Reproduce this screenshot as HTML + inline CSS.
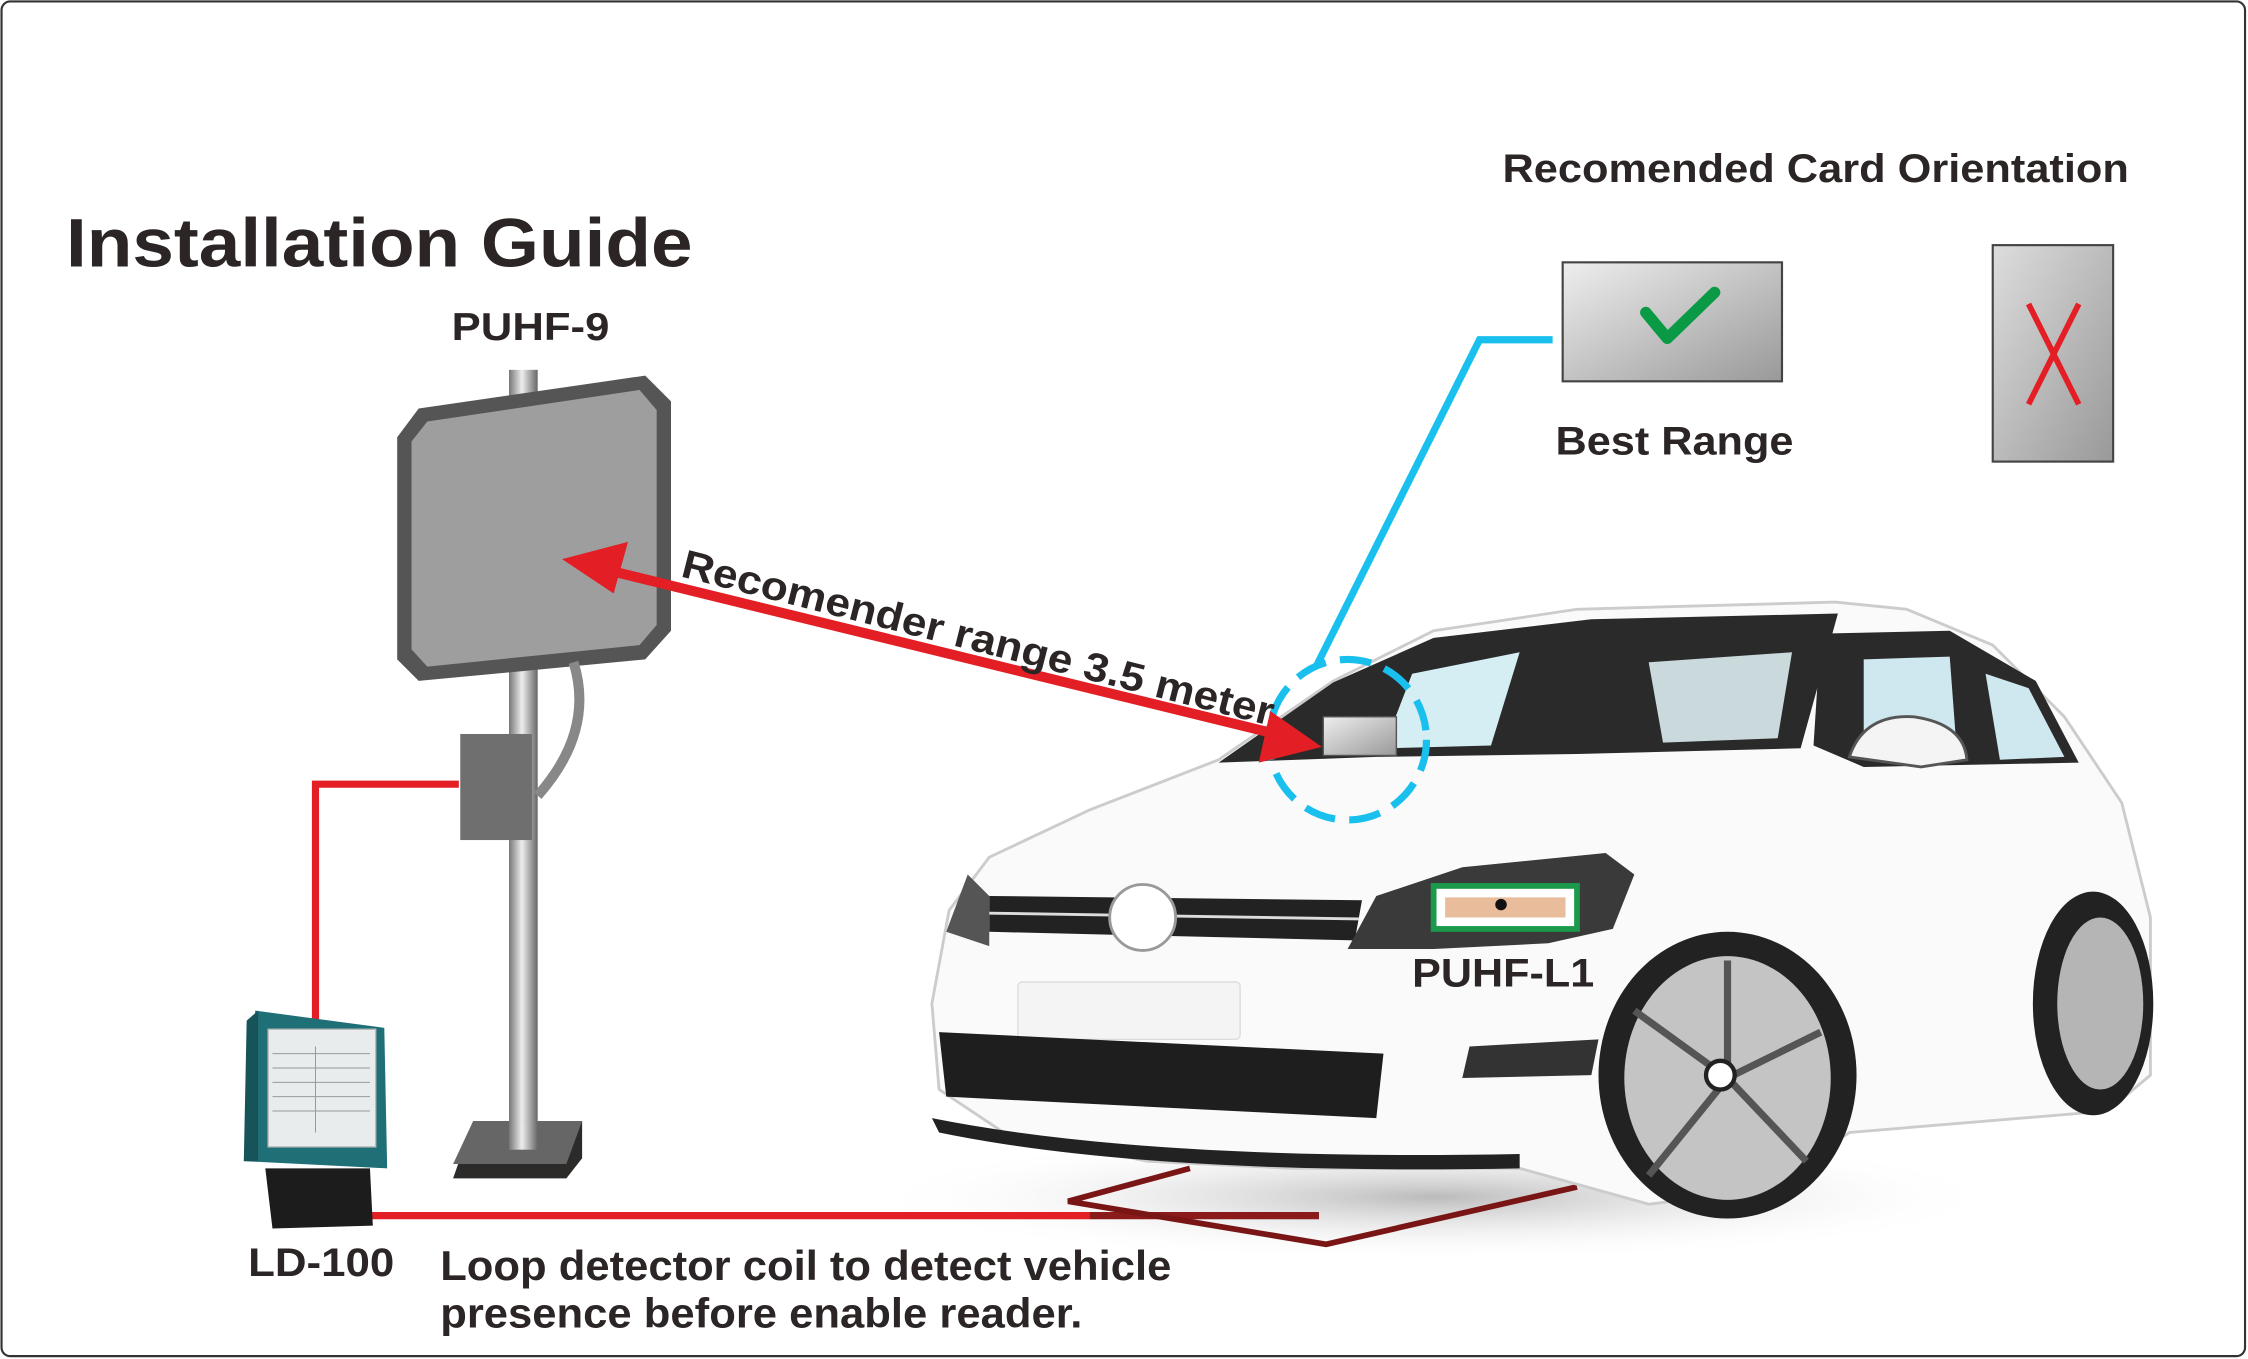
<!DOCTYPE html>
<html><head><meta charset="utf-8"><style>
html,body{margin:0;padding:0;background:#fff}
svg{display:block}
text{font-family:"Liberation Sans",sans-serif;font-weight:bold;fill:#2b2525}
</style></head><body>
<svg width="2248" height="1359" viewBox="0 0 1568 948" xmlns="http://www.w3.org/2000/svg">
<defs>
<linearGradient id="pole" x1="0" x2="1"><stop offset="0" stop-color="#777"/><stop offset="0.45" stop-color="#eee"/><stop offset="1" stop-color="#666"/></linearGradient>
<linearGradient id="card" x1="0" y1="0" x2="1" y2="1"><stop offset="0" stop-color="#eee"/><stop offset="1" stop-color="#999"/></linearGradient>
<linearGradient id="card2" x1="0" y1="0" x2="1" y2="1"><stop offset="0" stop-color="#ddd"/><stop offset="1" stop-color="#999"/></linearGradient>
<radialGradient id="sh"><stop offset="0" stop-color="#bbb"/><stop offset="1" stop-color="#fff" stop-opacity="0"/></radialGradient>
</defs>
<rect x="1" y="1" width="1565" height="945" rx="6" fill="#fff" stroke="#333" stroke-width="1.5"/>
<text x="46" y="186" font-size="48" textLength="437" lengthAdjust="spacingAndGlyphs">Installation Guide</text>
<text x="315" y="237" font-size="27" textLength="110" lengthAdjust="spacingAndGlyphs">PUHF-9</text>
<text x="1048" y="127" font-size="28" textLength="437" lengthAdjust="spacingAndGlyphs">Recomended Card Orientation</text>
<text x="1085" y="317" font-size="28" textLength="166" lengthAdjust="spacingAndGlyphs">Best Range</text>

<!-- cards -->
<rect x="1090" y="183" width="153" height="83" fill="url(#card)" stroke="#444" stroke-width="1.5"/>
<path d="M1148 218 L1163 236 L1196 204" fill="none" stroke="#0a9a45" stroke-width="8" stroke-linecap="round" stroke-linejoin="round"/>
<rect x="1390" y="171" width="84" height="151" fill="url(#card2)" stroke="#444" stroke-width="1.5"/>
<path d="M1415 212 L1450 282 M1450 212 L1415 282" stroke="#e31e24" stroke-width="4"/>

<!-- shadow -->
<ellipse cx="1000" cy="835" rx="400" ry="45" fill="url(#sh)"/>

<!-- pole -->
<rect x="355" y="258" width="20" height="545" fill="url(#pole)"/>
<path d="M330 782 L406 782 L406 808 L395 822 L316 822 Z" fill="#2d2a2a"/>
<path d="M330 782 L406 782 L395 812 L316 812 Z" fill="#666"/>
<rect x="355" y="782" width="20" height="20" fill="url(#pole)"/>
<!-- antenna -->
<path d="M277 305 L292 285 L450 262 L468 280 L468 440 L450 460 L292 475 L277 460 Z" fill="#555"/>
<path d="M287 308 L298 294 L446 272 L458 286 L458 436 L446 450 L298 465 L287 453 Z" fill="#9e9e9e"/>
<path d="M400 462 Q415 510 375 555" fill="none" stroke="#888" stroke-width="7"/>
<rect x="321" y="512" width="50" height="74" fill="#6f6f6f"/>
<!-- red wires -->
<path d="M320 547 L220 547 L220 712" fill="none" stroke="#e31e24" stroke-width="5"/>
<path d="M255 848 L760 848" stroke="#e31e24" stroke-width="5"/>
<path d="M760 848 L920 848" stroke="#8b1a1a" stroke-width="5"/>
<path d="M830 815 L745 838 L925 868 L1100 828" fill="none" stroke="#7a1515" stroke-width="4"/>

<!-- LD-100 -->
<path d="M178 705 L268 717 L270 815 L170 810 Z" fill="#1f6f77"/>
<path d="M172 712 L180 705 L180 810 L170 810 Z" fill="#16545a"/>
<rect x="187" y="718" width="75" height="82" fill="#e8ecec" stroke="#bbb"/>
<g stroke="#999" stroke-width="0.7"><path d="M190 735 H258 M190 745 H258 M190 755 H258 M190 765 H258 M190 775 H258 M220 730 V790"/></g>
<path d="M185 815 L258 815 L260 855 L190 857 Z" fill="#1c1c1c"/>
<text x="173" y="890" font-size="28" textLength="102" lengthAdjust="spacingAndGlyphs">LD-100</text>
<text x="307" y="893" font-size="29" textLength="510" lengthAdjust="spacingAndGlyphs">Loop detector coil to detect vehicle</text>
<text x="307" y="926" font-size="29" textLength="448" lengthAdjust="spacingAndGlyphs">presence before enable reader.</text>

<!-- car -->
<path d="M650 700 L662 635 L690 598 L760 565 L850 530 L930 475 L1000 440 L1100 425 L1280 420 L1330 425 L1390 450 L1440 500 L1480 560 L1500 640 L1500 750 L1470 775 L1290 790 L1230 830 L1150 840 L1060 815 L900 815 L800 810 L700 790 L655 760 Z" fill="#fafafa" stroke="#ccc" stroke-width="2"/>
<path d="M850 532 L930 476 L1000 445 L1110 432 L1282 428 L1256 522 L1100 526 L960 528 Z" fill="#2a2a2a"/>
<path d="M985 470 L1060 455 L1040 520 L965 522 Z" fill="#d5eef3"/>
<path d="M1150 462 L1250 455 L1240 515 L1160 518 Z" fill="#c9d9dc"/>
<path d="M1270 442 L1360 440 L1420 475 L1450 532 L1300 535 L1265 520 Z" fill="#2a2a2a"/>
<path d="M1300 460 L1360 458 L1365 525 L1300 528 Z" fill="#cfe8ef"/>
<path d="M1385 470 L1415 480 L1440 528 L1395 530 Z" fill="#cfe8ef"/>
<path d="M1290 528 Q1300 498 1335 500 Q1370 505 1372 530 L1340 535 Z" fill="#f4f4f4" stroke="#555" stroke-width="2"/>
<path d="M690 625 L950 628 L945 656 L690 650 Z" fill="#222"/>
<path d="M690 637 L948 641" stroke="#ddd" stroke-width="2"/>
<path d="M660 650 L675 610 L690 625 L690 660 Z" fill="#555"/>
<path d="M940 662 L960 625 L1020 605 L1120 595 L1140 610 L1125 648 L1080 658 L1000 662 Z" fill="#3a3a3a"/>
<circle cx="797" cy="640" r="23" fill="#fff" stroke="#999" stroke-width="2"/>
<rect x="710" y="685" width="155" height="40" rx="3" fill="#f4f4f4" stroke="#ddd"/>
<path d="M655 720 L965 735 L960 780 L660 765 Z" fill="#1e1e1e"/>
<path d="M1025 730 L1115 725 L1110 750 L1020 752 Z" fill="#333"/>
<path d="M650 780 Q800 810 1060 805 L1060 815 Q800 820 655 790 Z" fill="#222"/>
<!-- wheels -->
<ellipse cx="1460" cy="700" rx="42" ry="78" fill="#222"/>
<ellipse cx="1465" cy="700" rx="30" ry="60" fill="#b5b5b5"/>
<ellipse cx="1205" cy="750" rx="90" ry="100" fill="#222"/>
<ellipse cx="1205" cy="752" rx="72" ry="85" fill="#c4c4c4"/>
<g stroke="#555" stroke-width="5"><path d="M1205 752 L1205 670 M1205 752 L1270 720 M1205 752 L1260 810 M1205 752 L1150 820 M1205 752 L1140 705"/></g>
<circle cx="1200" cy="750" r="10" fill="#fff" stroke="#222" stroke-width="3"/>

<!-- tag -->
<rect x="1000" y="618" width="100" height="30" fill="#fff" stroke="#1a9a4a" stroke-width="4"/>
<rect x="1008" y="626" width="84" height="14" fill="#e0a070" opacity="0.7"/>
<circle cx="1047" cy="631" r="4" fill="#111"/>
<text x="985" y="688" font-size="28" textLength="127" lengthAdjust="spacingAndGlyphs">PUHF-L1</text>

<!-- hood card -->
<rect x="923" y="500" width="51" height="27" fill="url(#card)" stroke="#555"/>
<!-- cyan -->
<path d="M1083 237 L1032 237 L918 465" fill="none" stroke="#19c0ee" stroke-width="5"/>
<ellipse cx="940" cy="516" rx="55" ry="56" fill="none" stroke="#19c0ee" stroke-width="5" stroke-dasharray="22 10"/>

<!-- red arrow -->
<path d="M425 398 L890 512" stroke="#e31e24" stroke-width="7"/>
<path d="M392 390 L438 378 L428 414 Z" fill="#e31e24"/>
<path d="M922 521 L886 496 L878 532 Z" fill="#e31e24"/>
<text font-size="28" transform="translate(474 402) rotate(14.2)" textLength="425" lengthAdjust="spacingAndGlyphs">Recomender range 3.5 meter</text>
</svg>
</body></html>
